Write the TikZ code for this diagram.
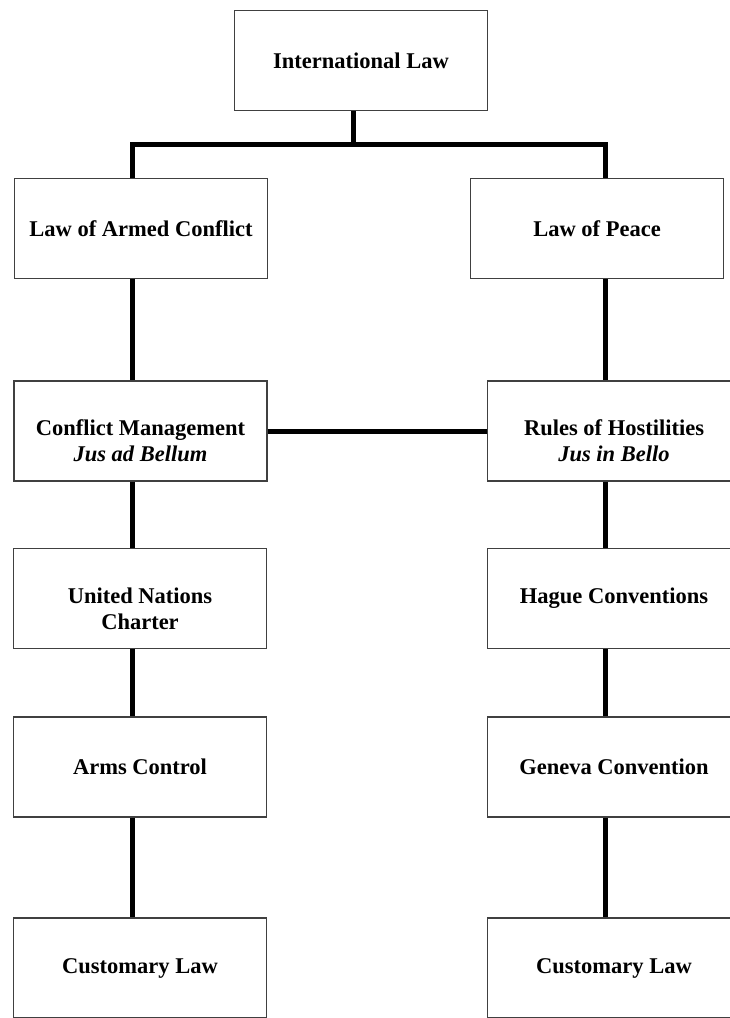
\documentclass[tikz,border=0pt]{standalone}
\usepackage{fontspec}
\setmainfont{Liberation Serif}
\usetikzlibrary{positioning}

\begin{document}
\begin{tikzpicture}[x=1pt,y=-1pt,
  boxtext/.style={align=center,inner sep=0pt,font=\fontsize{22.5}{26}\selectfont\bfseries},
  box/.style={draw=black!75,line width=1.4pt,minimum width=253pt,minimum height=100pt,boxtext},
  twoline/.style={label={[boxtext,yshift=-10pt]center:{#1}}},
  link/.style={line width=5pt,line join=miter}]
  \useasboundingbox (0,0) rectangle (730,1018);
  \clip (0,0) rectangle (730,1018);
  \node[box] (il)   at (361,60.5)  {International Law};
  \node[box] (loac) at (141,228.7) {Law of Armed Conflict};
  \node[box] (lop)  at (597,228.5) {Law of Peace};
  \node[box,twoline={Conflict Management\\\itshape Jus ad Bellum}] (cm) at (140.5,431) {};
  \node[box,twoline={Rules of Hostilities\\\itshape Jus in Bello}] (roh) at (614,431) {};
  \node[box,twoline={United Nations\\Charter}] (unc) at (140,598.5) {};
  \node[box] (hc)   at (614,598.5) {Hague Conventions};
  \node[box] (ac)   at (140,766.8) {Arms Control};
  \node[box] (gc)   at (614,766.8) {Geneva Convention};
  \node[box] (cl1)  at (140,968)   {Customary Law};
  \node[box] (cl2)  at (614,968)   {Customary Law};
  \coordinate (mx) at (353,0);
  \coordinate (lx) at (132,0);
  \coordinate (rx) at (605,0);
  \coordinate (bus) at (0,144);
  \draw[link] (mx |- il.south) -- (mx |- bus);
  \draw[link] (lx |- loac.north) |- (rx |- bus) -- (rx |- lop.north);
  \draw[link] (lx |- loac.south) -- (lx |- cm.north);
  \draw[link] (lx |- cm.south) -- (lx |- unc.north);
  \draw[link] (lx |- unc.south) -- (lx |- ac.north);
  \draw[link] (lx |- ac.south) -- (lx |- cl1.north);
  \draw[link] (rx |- lop.south) -- (rx |- roh.north);
  \draw[link] (rx |- roh.south) -- (rx |- hc.north);
  \draw[link] (rx |- hc.south) -- (rx |- gc.north);
  \draw[link] (rx |- gc.south) -- (rx |- cl2.north);
  \draw[link] (cm.east) -- (roh.west);
\end{tikzpicture}
\end{document}
